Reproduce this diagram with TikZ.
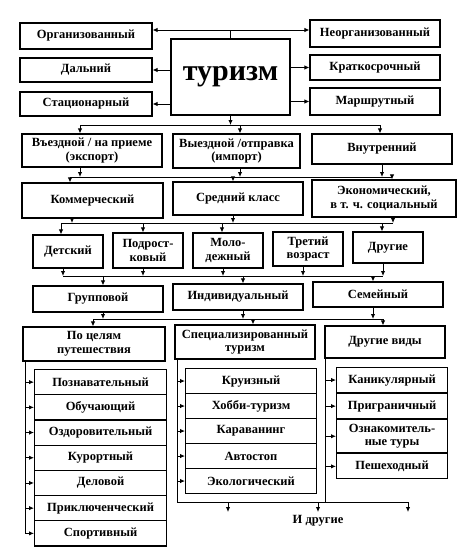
\documentclass[tikz,border=0pt]{standalone}
\usepackage{fontspec}
\setmainfont{Liberation Serif}
\usetikzlibrary{calc}
\usetikzlibrary{arrows.meta}

\tikzset{
  blk/.style={draw,rectangle,line width=1.1pt,align=center,inner sep=1pt,
    font=\fontsize{12.5}{13.5}\selectfont\bfseries},
  ln/.style={line width=0.9pt},
  arr/.style={ln,-{Latex[length=5pt,width=4.4pt]}},
}
% box from (x1,y1) to (x2,y2), y going down
\newcommand{\blkat}[6]{%
  \node[blk,minimum width={#4-#2},minimum height={#5-#3}]
    (#1) at ({(#2+#4)/2},{(#3+#5)/2}) {#6};
}

\begin{document}
\begin{tikzpicture}[x=1pt,y=-1pt]
  \path[fill=white,use as bounding box] (0,0) rectangle (471,551);

  % Top {{{
  \blkat{org}{20}{23}{152}{49}{Организованный}
  \blkat{dal}{20}{58}{152}{82}{Дальний}
  \blkat{stac}{20}{92}{152}{116}{Стационарный}
  \node[blk,font=\fontsize{30}{32}\selectfont\bfseries,
    minimum width=119,minimum height=76] (tur) at (230.5,77) {туризм};
  \blkat{neorg}{310}{20}{440}{47}{Неорганизованный}
  \blkat{krat}{310}{55}{440}{80}{Краткосрочный}
  \blkat{marsh}{310}{88}{440}{115}{Маршрутный}

  \coordinate (tt) at (230.5,30);
  \draw[ln] (tur.north) -- (tt);
  \draw[arr] (tt) -- (tt -| org.east);
  \draw[arr] (tt) -- (tt -| neorg.west);
  \draw[arr] (tur.west |- dal.east) -- (dal.east);
  \draw[arr] (tur.west |- stac.east) -- (stac.east);
  \draw[arr] (tur.east |- krat.west) -- (krat.west);
  \draw[arr] (tur.east |- marsh.west) -- (marsh.west);
  % }}}

  % Rows 2 and 3 {{{
  \blkat{vez}{22}{134}{162}{167}{Въездной / на приеме\\(экспорт)}
  \blkat{vyez}{173}{134}{300}{168}{Выездной /отправка\\(импорт)}
  \blkat{vnut}{312}{134}{452}{164}{Внутренний}

  \coordinate (b1a) at (80,125);
  \coordinate (b1b) at (240,125);
  \coordinate (b1c) at (380,125);
  \draw[arr] (tur.south) -- (tur.south |- b1a);
  \draw[ln] (b1a) -- (b1c);
  \draw[arr] (b1a) -- (b1a |- vez.north);
  \draw[arr] (b1b) -- (b1b |- vyez.north);
  \draw[arr] (b1c) -- (b1c |- vnut.north);

  \blkat{kom}{22}{183}{163}{218}{Коммерческий}
  \blkat{sred}{173}{182}{303}{215}{Средний класс}
  \blkat{ekon}{312}{180}{456}{217}{Экономический,\\в т. ч. социальный}

  \coordinate (s2a) at (80,177);
  \coordinate (s2b) at (240,177);
  \coordinate (s2c) at (382,177);
  \coordinate (b2a) at (70,177);
  \coordinate (b2b) at (233,177);
  \coordinate (b2c) at (392,177);
  \draw[ln] (b2a) -- (b2c);
  \draw[arr] (s2a |- vez.south) -- (s2a);
  \draw[arr] (s2b |- vyez.south) -- (s2b);
  \draw[arr] (s2c |- vnut.south) -- (s2c);
  \draw[arr] (b2a) -- (b2a |- kom.north);
  \draw[arr] (b2b) -- (b2b |- sred.north);
  \draw[arr] (b2c) -- (b2c |- ekon.north);
  % }}}

  % Rows 4 and 5 {{{
  \blkat{det}{33}{235}{103}{268}{Детский}
  \blkat{podr}{113}{233}{183}{268}{Подрост-\\ковый}
  \blkat{mol}{193}{233}{263}{268}{Моло-\\дежный}
  \blkat{tret}{273}{232}{343}{266}{Третий\\возраст}
  \blkat{drug}{353}{232}{423}{263}{Другие}

  \coordinate (s3a) at (72,223);
  \coordinate (s3b) at (233,223);
  \coordinate (s3c) at (393,223);
  \coordinate (b3a) at (61,223);
  \coordinate (b3b) at (143,223);
  \coordinate (b3c) at (222,223);
  \coordinate (b3d) at (382,223);
  \draw[ln] (b3a) -- (s3c);
  \draw[arr] (s3a |- kom.south) -- (s3a);
  \draw[arr] (s3b |- sred.south) -- (s3b);
  \draw[arr] (s3c |- ekon.south) -- (s3c);
  \draw[arr] (b3a) -- (b3a |- det.north);
  \draw[arr] (b3b) -- (b3b |- podr.north);
  \draw[arr] (b3c) -- (b3c |- mol.north);
  \draw[arr] (b3d) -- (b3d |- drug.north);

  \blkat{grup}{33}{286}{163}{312}{Групповой}
  \blkat{ind}{173}{284}{303}{310}{Индивидуальный}
  \blkat{sem}{313}{282}{443}{307}{Семейный}

  \coordinate (s4a) at (63,276);
  \coordinate (s4b) at (143,276);
  \coordinate (s4c) at (223,276);
  \coordinate (s4d) at (303,276);
  \coordinate (s4e) at (383,276);
  \coordinate (b4a) at (103,276);
  \coordinate (b4b) at (243,276);
  \coordinate (b4c) at (373,276);
  \draw[ln] (s4a) -- (s4e);
  \draw[arr] (s4a |- det.south) -- (s4a);
  \draw[arr] (s4b |- podr.south) -- (s4b);
  \draw[arr] (s4c |- mol.south) -- (s4c);
  \draw[arr] (s4d |- tret.south) -- (s4d);
  \draw[arr] (s4e |- drug.south) -- (s4e);
  \draw[arr] (b4a) -- (b4a |- grup.north);
  \draw[arr] (b4b) -- (b4b |- ind.north);
  \draw[arr] (b4c) -- (b4c |- sem.north);
  % }}}

  % Kinds {{{
  \blkat{cel}{23}{327}{165}{361}{По целям\\путешествия}
  \blkat{spec}{175}{325}{315}{359}{Специализированный\\туризм}
  \blkat{oth}{325}{326}{445}{358}{Другие виды}

  \coordinate (s5a) at (103,319);
  \coordinate (s5b) at (243,319);
  \coordinate (s5c) at (373,319);
  \coordinate (b5a) at (93,319);
  \coordinate (b5b) at (253,319);
  \coordinate (b5c) at (383,319);
  \draw[ln] (b5a) -- (b5c);
  \draw[arr] (s5a |- grup.south) -- (s5a);
  \draw[arr] (s5b |- ind.south) -- (s5b);
  \draw[arr] (s5c |- sem.south) -- (s5c);
  \draw[arr] (b5a) -- (b5a |- cel.north);
  \draw[arr] (b5b) -- (b5b |- spec.north);
  \draw[arr] (b5c) -- (b5c |- oth.north);

  % by purpose
  \foreach \t [count=\i] in {Познавательный,Обучающий,Оздоровительный,
      Курортный,Деловой,Приключенческий,Спортивный}
    \node[blk,anchor=north west,minimum width=132,minimum height=25.2]
      (c\i) at (34,{369+25.2*(\i-1)}) {\t};
  \coordinate (cv) at (25,0);
  \draw[ln] (cel.south -| cv) -- (c7.west -| cv);
  \foreach \i in {1,...,7}
    \draw[arr] (c\i.west -| cv) -- (c\i.west);

  % specialized
  \foreach \t [count=\i] in {Круизный,Хобби-туризм,Караванинг,Автостоп,Экологический}
    \node[blk,anchor=north west,minimum width=131,minimum height=25]
      (p\i) at (185,{368+25*(\i-1)}) {\t};

  % other kinds
  \node[blk,anchor=north west,minimum width=111,minimum height=25]
    (o1) at (336,367) {Каникулярный};
  \node[blk,anchor=north,minimum width=111,minimum height=25]
    (o2) at (o1.south) {Приграничный};
  \node[blk,anchor=north,minimum width=111,minimum height=33]
    (o3) at (o2.south) {Ознакомитель-\\ные туры};
  \node[blk,anchor=north,minimum width=111,minimum height=25]
    (o4) at (o3.south) {Пешеходный};

  \coordinate (b7a) at (177,502);
  \coordinate (b7r) at (325,502);
  \coordinate (d1) at (228,502);
  \coordinate (d2) at (318,502);
  \coordinate (d3) at (408,502);
  \draw[ln] (spec.south -| b7a) -- (b7a) -- (d3);
  \draw[ln] (oth.south -| b7r) -- (b7r);
  \foreach \i in {1,...,5}
    \draw[arr] (p\i.west -| b7a) -- (p\i.west);
  \foreach \i in {1,...,4}
    \draw[arr] (o\i.west -| b7r) -- (o\i.west);

  \node[font=\fontsize{12.5}{13.5}\selectfont\bfseries] (etc) at (318,521) {И другие};
  \draw[arr] (d1) -- (d1 |- etc.north);
  \draw[arr] (d2) -- (etc.north);
  \draw[arr] (d3) -- (d3 |- etc.north);
  % }}}

\end{tikzpicture}
\end{document}
